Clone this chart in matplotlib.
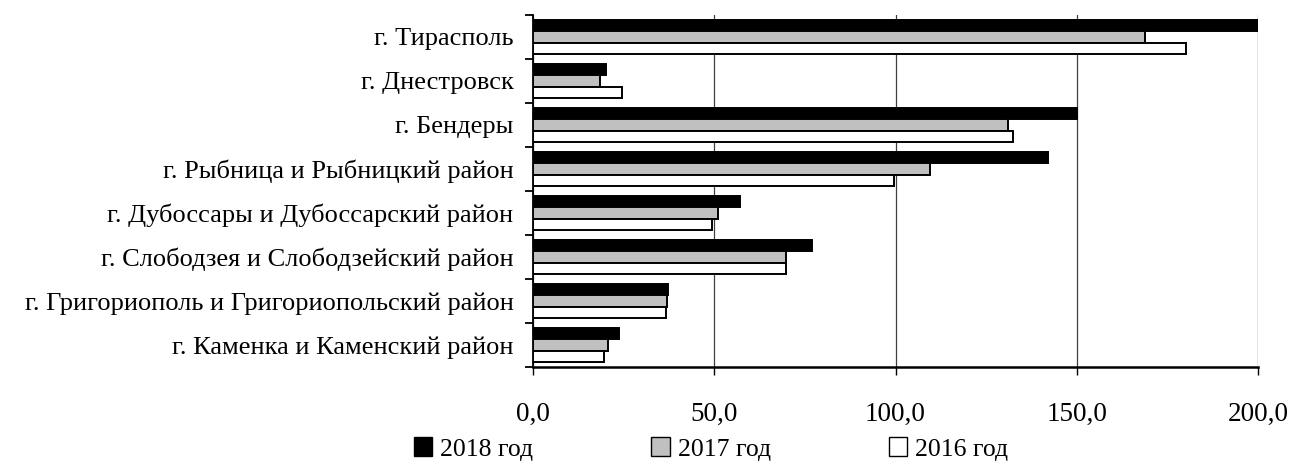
import matplotlib
matplotlib.use("Agg")
import matplotlib.pyplot as plt
from matplotlib.patches import Patch
import numpy as np

categories = [
    "г. Тирасполь",
    "г. Днестровск",
    "г. Бендеры",
    "г. Рыбница и Рыбницкий район",
    "г. Дубоссары и Дубоссарский район",
    "г. Слободзея и Слободзейский район",
    "г. Григориополь и Григориопольский район",
    "г. Каменка и Каменский район",
]
v2018 = [200.0, 20.1, 150.2, 142.0, 57.2, 77.1, 37.3, 23.7]
v2017 = [168.8, 18.4, 130.9, 109.5, 51.0, 69.8, 37.1, 20.6]
v2016 = [180.0, 24.5, 132.5, 99.5, 49.4, 69.8, 36.6, 19.6]
series_labels = ["2018 год", "2017 год", "2016 год"]
xticks = [0, 50, 100, 150, 200]
xticklabels = ["0,0", "50,0", "100,0", "150,0", "200,0"]

plt.rcParams['font.family'] = ['Liberation Serif', 'DejaVu Serif']

fig = plt.figure(figsize=(12.93, 4.63), dpi=100)
ax = fig.add_axes([533/1293, 1-367/463, (1258-533)/1293, (367-15)/463])

n = len(categories)
y = np.arange(n)
h = 0.26
colors = ["black", "#c0c0c0", "white"]
for i, (vals, c) in enumerate(zip([v2018, v2017, v2016], colors)):
    ax.barh(y + (i - 1) * h, vals, height=h, color=c, edgecolor="black",
            linewidth=1.4, zorder=3)

ax.set_ylim(n - 0.5, -0.5)
ax.set_xlim(0, 200)
ax.set_xticks(xticks)
ax.set_xticklabels(xticklabels, fontsize=19.5)
ax.set_yticks(y)
ax.set_yticklabels(categories, fontsize=19)
ax.tick_params(axis='y', length=0, pad=14)
ax.set_yticks(np.arange(n + 1) - 0.5, minor=True)
ax.tick_params(axis='y', which='minor', length=6, width=1.3, direction='out')
ax.tick_params(axis='x', length=6, width=1.0, direction='out', pad=19)

ax.grid(axis='x', color='#404040', linewidth=0.9, zorder=0)
for s in ['top', 'right']:
    ax.spines[s].set_visible(False)
ax.spines['left'].set_linewidth(1.3)
ax.spines['bottom'].set_linewidth(1.8)

handles = [Patch(facecolor=c, edgecolor='black', linewidth=1.0) for c in colors]
fig.legend(handles, series_labels, loc='center', bbox_to_anchor=(711/1293, 1-449/463),
           ncol=3, frameon=False, fontsize=18.5, columnspacing=4.6,
           handlelength=0.72, handleheight=0.72, handletextpad=0.3,
           borderpad=0, borderaxespad=0)

fig.savefig("out.png", dpi=100)
